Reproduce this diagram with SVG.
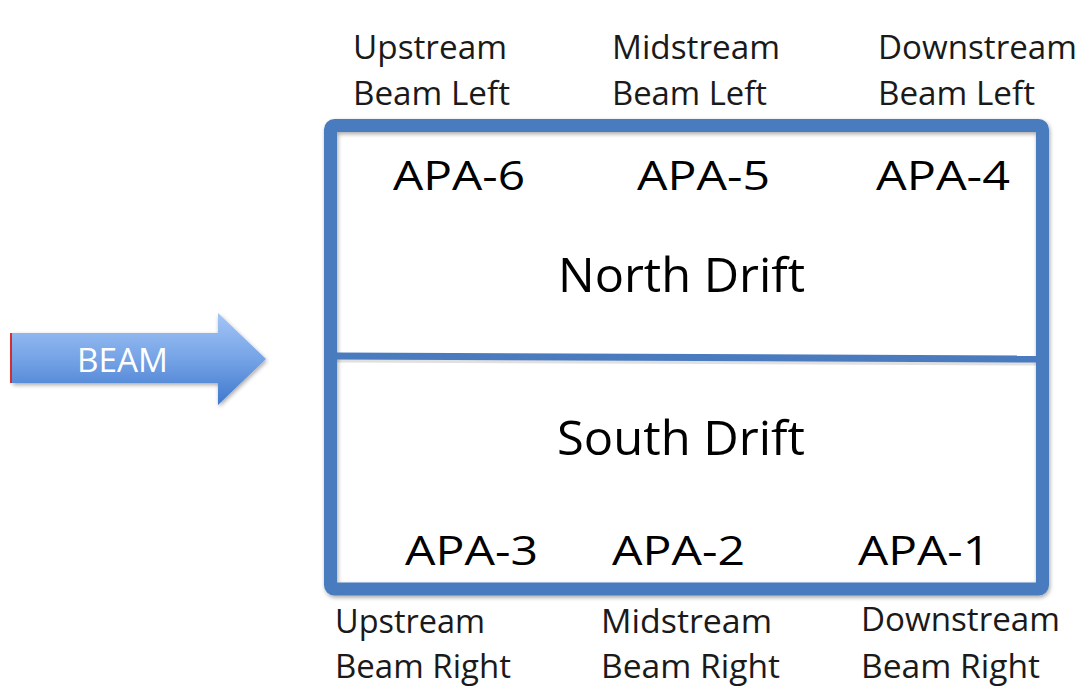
<svg xmlns="http://www.w3.org/2000/svg" width="1083" height="686" viewBox="0 0 1083 686">
<defs>
<linearGradient id="beamGrad" x1="0" y1="0" x2="0" y2="1">
<stop offset="0" stop-color="#a4c6f6"/>
<stop offset="0.5" stop-color="#75a3e6"/>
<stop offset="1" stop-color="#3f78cc"/>
</linearGradient>
<filter id="sh" x="-5%" y="-20%" width="110%" height="140%">
<feGaussianBlur in="SourceAlpha" stdDeviation="2"/>
<feOffset dx="1" dy="2" result="b"/>
<feComponentTransfer><feFuncA type="linear" slope="0.35"/></feComponentTransfer>
<feMerge><feMergeNode/><feMergeNode in="SourceGraphic"/></feMerge>
</filter>
<style>
.lbl{font-family:"Open Sans","Liberation Sans",sans-serif;font-size:32px;fill:#1a1a1a}
.apa{font-family:"Open Sans","Liberation Sans",sans-serif;font-size:41px;fill:#000}
.drift{font-family:"Open Sans","Liberation Sans",sans-serif;font-size:48px;fill:#000}
.beam{font-family:"Open Sans","Liberation Sans",sans-serif;font-size:32px;fill:#fff}
</style>
</defs>
<rect width="1083" height="686" fill="#fff"/>

<g id="beam-arrow">
<rect x="10" y="333" width="2" height="50" fill="#d33"/>
<path d="M12,333 H218 V313 L266,359 L218,405 V383 H12 Z" fill="url(#beamGrad)" filter="url(#sh)"/>
<text class="beam" x="77" y="372" textLength="91" lengthAdjust="spacingAndGlyphs">BEAM</text>
</g>

<g id="drift-box">
<rect x="330.5" y="125.5" width="712" height="463.5" rx="4" fill="none" stroke="#4a7bbf" stroke-width="13" filter="url(#sh)"/>
<path d="M337,359 L1036,362" fill="none" stroke="#000" stroke-opacity="0.12" stroke-width="7"/>
<path d="M337,356 L1036,359" fill="none" stroke="#4a7bbf" stroke-width="7"/>
</g>

<g id="north-drift">
<text class="drift" x="558" y="292" textLength="247" lengthAdjust="spacingAndGlyphs">North Drift</text>
</g>
<g id="south-drift">
<text class="drift" x="557" y="455" textLength="248" lengthAdjust="spacingAndGlyphs">South Drift</text>
</g>

<g id="apa-6"><text class="apa" x="393" y="190" textLength="132" lengthAdjust="spacingAndGlyphs">APA-6</text></g>
<g id="apa-5"><text class="apa" x="637" y="190" textLength="133" lengthAdjust="spacingAndGlyphs">APA-5</text></g>
<g id="apa-4"><text class="apa" x="876" y="190" textLength="134" lengthAdjust="spacingAndGlyphs">APA-4</text></g>
<g id="apa-3"><text class="apa" x="405" y="565" textLength="133" lengthAdjust="spacingAndGlyphs">APA-3</text></g>
<g id="apa-2"><text class="apa" x="612" y="565" textLength="133" lengthAdjust="spacingAndGlyphs">APA-2</text></g>
<g id="apa-1"><text class="apa" x="858" y="565" textLength="132" lengthAdjust="spacingAndGlyphs">APA-1</text></g>

<g id="label-upstream-left">
<text class="lbl" x="353" y="59" textLength="154" lengthAdjust="spacingAndGlyphs">Upstream</text>
<text class="lbl" x="353" y="105" textLength="157" lengthAdjust="spacingAndGlyphs">Beam Left</text>
</g>
<g id="label-midstream-left">
<text class="lbl" x="612" y="59" textLength="168" lengthAdjust="spacingAndGlyphs">Midstream</text>
<text class="lbl" x="612" y="105" textLength="155" lengthAdjust="spacingAndGlyphs">Beam Left</text>
</g>
<g id="label-downstream-left">
<text class="lbl" x="878" y="59" textLength="199" lengthAdjust="spacingAndGlyphs">Downstream</text>
<text class="lbl" x="878" y="105" textLength="157" lengthAdjust="spacingAndGlyphs">Beam Left</text>
</g>
<g id="label-upstream-right">
<text class="lbl" x="335" y="633" textLength="150" lengthAdjust="spacingAndGlyphs">Upstream</text>
<text class="lbl" x="335" y="678" textLength="176" lengthAdjust="spacingAndGlyphs">Beam Right</text>
</g>
<g id="label-midstream-right">
<text class="lbl" x="601" y="633" textLength="171" lengthAdjust="spacingAndGlyphs">Midstream</text>
<text class="lbl" x="601" y="678" textLength="179" lengthAdjust="spacingAndGlyphs">Beam Right</text>
</g>
<g id="label-downstream-right">
<text class="lbl" x="861" y="631" textLength="199" lengthAdjust="spacingAndGlyphs">Downstream</text>
<text class="lbl" x="861" y="678" textLength="179" lengthAdjust="spacingAndGlyphs">Beam Right</text>
</g>
</svg>
